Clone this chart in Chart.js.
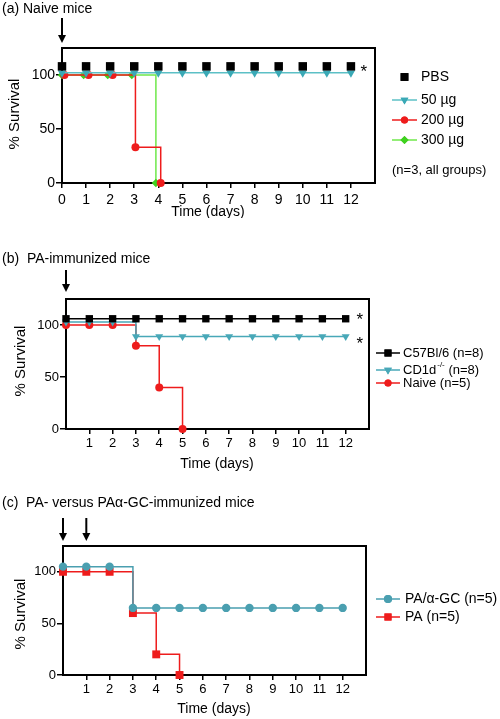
<!DOCTYPE html>
<html><head><meta charset="utf-8">
<script src="https://cdn.jsdelivr.net/npm/chart.js@4/dist/chart.umd.min.js"></script>
<style>
html,body{margin:0;padding:0;background:#fff;}
#wrap{position:relative;width:500px;height:719px;overflow:hidden;}
canvas{position:absolute;left:0;}
</style></head><body>
<div id="wrap">
<canvas id="ca" width="500" height="218" style="top:0px"></canvas>
<canvas id="cb" width="500" height="254" style="top:218px"></canvas>
<canvas id="cc" width="500" height="247" style="top:472px"></canvas>
</div>
<script>
const FONT = '"Liberation Sans", Arial, Helvetica, sans-serif';

// ---------- Panel (a) Naive mice ----------
const daysA = [0,1,2,3,4,5,6,7,8,9,10,11,12];
const pbsA = [108,108,108,108,108,108,108,108,108,108,108,108,108];
const ug50A = [102,102,102,102,102,102,102,102,102,102,102,102,102];
const ug200DaysA = [0.1,1.1,2.1,3.05,4.1];
const ug200A = [100,100,100,33,0];
const ug300DaysA = [0,0.9,1.9,2.9,3.9];
const ug300A = [100,100,100,100,0];
const xTicksA = [0,1,2,3,4,5,6,7,8,9,10,11,12];

// ---------- Panel (b) PA-immunized mice ----------
const daysB = [0,1,2,3,4,5,6,7,8,9,10,11,12];
const c57B = [106,106,106,106,106,106,106,106,106,106,106,106,106];
const cd1dB = [103,103,103,89,89,89,89,89,89,89,89,89,89];
const naiveDaysB = [0,1,2,3,4,5];
const naiveB = [100,100,100,80,40,0];
const xTicksB = [1,2,3,4,5,6,7,8,9,10,11,12];

// ---------- Panel (c) PA vs PA/a-GC ----------
const daysC = [0,1,2,3,4,5,6,7,8,9,10,11,12];
const paAgcC = [105,105,105,65,65,65,65,65,65,65,65,65,65];
const paDaysC = [0,1,2,3,4,5];
const paC = [100,100,100,60,20,0];
const xTicksC = [1,2,3,4,5,6,7,8,9,10,11,12];

const yTicks = [0,50,100];

const RED = '#ee1c1c', GREEN = '#3fd11f', GREENL = '#6fe84a';
const TEAL_A = '#3aa9b6', TEAL_AL = '#5cc0c6', TEAL_B = '#48a8b8', TEAL_C = '#4a9fb0';

function pts(xs, ys){ return xs.map((x,i)=>({x:x, y:ys[i]})); }

function drawMarker(ctx, style, r, rot, color, x, y){
  ctx.save();
  ctx.fillStyle = color; ctx.strokeStyle = color;
  if (Chart.helpers && Chart.helpers.drawPoint) {
    Chart.helpers.drawPoint(ctx, {pointStyle: style, radius: r, rotation: rot || 0, borderWidth: 0}, x, y);
    ctx.fill();
  }
  ctx.restore();
}

function arrow(ctx, x, y1, y2){
  ctx.save();
  ctx.strokeStyle = '#000'; ctx.fillStyle = '#000'; ctx.lineWidth = 2;
  ctx.beginPath(); ctx.moveTo(x, y1); ctx.lineTo(x, y2 - 6); ctx.stroke();
  ctx.beginPath(); ctx.moveTo(x - 4, y2 - 8); ctx.lineTo(x + 4, y2 - 8); ctx.lineTo(x, y2); ctx.closePath(); ctx.fill();
  ctx.restore();
}

function star(ctx, x, y, fs){
  ctx.save();
  ctx.fillStyle = '#000'; ctx.font = fs + 'px ' + FONT;
  ctx.textAlign = 'center'; ctx.textBaseline = 'alphabetic';
  ctx.fillText('*', x, y + 0.6 * fs);
  ctx.restore();
}

function panelPlugin(p){
  return {
    id: 'panelDeco',
    beforeDatasetsDraw(chart){
      const ctx = chart.ctx, a = chart.chartArea;
      ctx.save(); ctx.strokeStyle = '#000'; ctx.lineWidth = 2;
      ctx.strokeRect(a.left, a.top, a.right - a.left, a.bottom - a.top);
      ctx.restore();
    },
    afterDraw(chart){
      const ctx = chart.ctx, xs = chart.scales.x, ys = chart.scales.y;
      ctx.save();
      ctx.fillStyle = '#000';
      ctx.font = p.titleSize + 'px ' + FONT; ctx.textBaseline = 'middle'; ctx.textAlign = 'left';
      ctx.fillText(p.title, 2, p.titleY);
      p.arrows.forEach(d => arrow(ctx, xs.getPixelForValue(d), p.arrowY1, p.arrowY2));
      ctx.font = p.axisTitleSize + 'px ' + FONT; ctx.textAlign = 'center'; ctx.textBaseline = 'middle';
      ctx.fillText('Time (days)', p.xTitleX, p.xTitleY);
      ctx.save(); ctx.translate(p.yTitleX, p.yTitleY); ctx.rotate(-Math.PI/2);
      ctx.font = p.yTitleSize + 'px ' + FONT;
      ctx.fillText('% Survival', 0, 0); ctx.restore();
      p.stars.forEach(s => star(ctx, xs.getPixelForValue(12) + s.dx, ys.getPixelForValue(s.v) + (s.dy||0), 17));
      p.legend.forEach(it => {
        if (it.line) {
          ctx.save(); ctx.strokeStyle = it.lineColor; ctx.lineWidth = 1.5;
          ctx.beginPath(); ctx.moveTo(p.legX1, it.y); ctx.lineTo(p.legX2, it.y); ctx.stroke(); ctx.restore();
        }
        drawMarker(ctx, it.style, it.r, it.rot, it.color, (p.legX1 + p.legX2)/2, it.y);
        ctx.fillStyle = '#000'; ctx.textAlign = 'left'; ctx.textBaseline = 'middle';
        ctx.font = p.legSize + 'px ' + FONT;
        let x = p.legTextX;
        ctx.fillText(it.text, x, it.y);
        if (it.sup) {
          x += ctx.measureText(it.text).width;
          ctx.font = Math.round(p.legSize * 0.62) + 'px ' + FONT;
          ctx.fillText(it.sup, x + 1, it.y - 5);
          x += ctx.measureText(it.sup).width + 1;
          ctx.font = p.legSize + 'px ' + FONT;
          ctx.fillText(it.after, x, it.y);
        }
      });
      p.notes.forEach(n => {
        ctx.font = n.size + 'px ' + FONT; ctx.textAlign = 'left'; ctx.textBaseline = 'middle';
        ctx.fillText(n.text, n.x, n.y);
      });
      ctx.restore();
    }
  };
}

function ds(data, o){
  return Object.assign({
    data: data, borderWidth: 1.5, stepped: true, fill: false, clip: false,
    pointBorderWidth: 0, pointHoverRadius: 0, showLine: true
  }, o);
}

function makePanel(id, p, datasets){
  const H = document.getElementById(id).height;
  return new Chart(document.getElementById(id), {
    type: 'line',
    data: { datasets: datasets },
    options: {
      responsive: false, animation: false, devicePixelRatio: 1,
      layout: { padding: { left: 0, right: 500 - p.right, top: p.top, bottom: 0 } },
      plugins: { legend: {display: false}, tooltip: {enabled: false} },
      events: [],
      scales: {
        x: {
          type: 'linear', min: 0, max: 13,
          afterFit(s){ s.height = H - p.bottom; },
          afterBuildTicks(s){ s.ticks = p.xTicks.map(v => ({value: v})); },
          ticks: { color: '#000', font: {family: FONT, size: p.tickSize}, padding: p.xPad, maxRotation: 0, autoSkip: false },
          grid: { drawOnChartArea: false, drawTicks: true, tickLength: 5, color: '#000', lineWidth: 1.5 },
          border: { display: true, color: '#000', width: 2 }
        },
        y: {
          type: 'linear', min: 0, max: 125,
          afterFit(s){ s.width = p.left; },
          afterBuildTicks(s){ s.ticks = yTicks.map(v => ({value: v})); },
          ticks: { color: '#000', font: {family: FONT, size: p.tickSize}, padding: 1 },
          grid: { drawOnChartArea: false, drawTicks: true, tickLength: 6, color: '#000', lineWidth: 1.5 },
          border: { display: true, color: '#000', width: 2 }
        }
      }
    },
    plugins: [panelPlugin(p)]
  });
}

// ---- Panel (a)
makePanel('ca', {
  left: 62, right: 375, top: 48, bottom: 183, xTicks: xTicksA, tickSize: 14, xPad: 4,
  title: '(a) Naive mice', titleSize: 14, titleY: 9,
  arrows: [0], arrowY1: 18, arrowY2: 43,
  axisTitleSize: 14, xTitleX: 208, xTitleY: 212, yTitleX: 15, yTitleY: 114, yTitleSize: 15,
  stars: [{v: 108, dx: 13, dy: 0}],
  legX1: 392, legX2: 417, legTextX: 421, legSize: 14,
  legend: [
    {text: 'PBS', style: 'rect', r: 5.5, color: '#000', line: false, y: 77},
    {text: '50 \u00b5g', style: 'triangle', r: 4.5, rot: 180, color: TEAL_A, line: true, lineColor: TEAL_AL, y: 100},
    {text: '200 \u00b5g', style: 'circle', r: 3.5, color: RED, line: true, lineColor: RED, y: 120},
    {text: '300 \u00b5g', style: 'rectRot', r: 4, color: GREEN, line: true, lineColor: GREENL, y: 140}
  ],
  notes: [{text: '(n=3, all groups)', x: 392, y: 170, size: 13}]
}, [
  ds(pts(daysA, pbsA), {showLine: false, pointStyle: 'rect', pointRadius: 6, pointBackgroundColor: '#000', borderColor: '#000'}),
  ds(pts(daysA, ug50A), {pointStyle: 'triangle', pointRotation: 180, pointRadius: 4.8, pointBackgroundColor: TEAL_A, borderColor: TEAL_AL}),
  ds(pts(ug200DaysA, ug200A), {pointStyle: 'circle', pointRadius: 4, pointBackgroundColor: RED, borderColor: RED}),
  ds(pts(ug300DaysA, ug300A), {pointStyle: 'rectRot', pointRadius: 4.2, pointBackgroundColor: GREEN, borderColor: GREENL})
]);

// ---- Panel (b)  (canvas top = 218)
makePanel('cb', {
  left: 66, right: 369, top: 81, bottom: 211, xTicks: xTicksB, tickSize: 13, xPad: 2,
  title: '(b)  PA-immunized mice', titleSize: 14, titleY: 41,
  arrows: [0], arrowY1: 52, arrowY2: 74,
  axisTitleSize: 14, xTitleX: 217, xTitleY: 246, yTitleX: 21, yTitleY: 143, yTitleSize: 15,
  stars: [{v: 106, dx: 14, dy: -4}, {v: 89, dx: 14, dy: 2}],
  legX1: 376, legX2: 400, legTextX: 403, legSize: 13,
  legend: [
    {text: 'C57Bl/6 (n=8)', style: 'rect', r: 5, color: '#000', line: true, lineColor: '#000', y: 135},
    {text: 'CD1d', sup: '-/-', after: ' (n=8)', style: 'triangle', r: 4.5, rot: 180, color: TEAL_B, line: true, lineColor: TEAL_B, y: 152},
    {text: 'Naive (n=5)', style: 'circle', r: 3.5, color: RED, line: true, lineColor: RED, y: 165}
  ],
  notes: []
}, [
  ds(pts(daysB, c57B), {pointStyle: 'rect', pointRadius: 5.2, pointBackgroundColor: '#000', borderColor: '#000'}),
  ds(pts(daysB, cd1dB), {pointStyle: 'triangle', pointRotation: 180, pointRadius: 4.6, pointBackgroundColor: TEAL_B, borderColor: TEAL_B}),
  ds(pts(naiveDaysB, naiveB), {pointStyle: 'circle', pointRadius: 4, pointBackgroundColor: RED, borderColor: RED})
]);

// ---- Panel (c)  (canvas top = 472)
makePanel('cc', {
  left: 63, right: 366, top: 74, bottom: 203, xTicks: xTicksC, tickSize: 13, xPad: 2,
  title: '(c)  PA- versus PA\u03b1-GC-immunized mice', titleSize: 14, titleY: 31,
  arrows: [0, 1], arrowY1: 46, arrowY2: 69,
  axisTitleSize: 14, xTitleX: 214, xTitleY: 237, yTitleX: 21, yTitleY: 142, yTitleSize: 15,
  stars: [],
  legX1: 376, legX2: 400, legTextX: 405, legSize: 14,
  legend: [
    {text: 'PA/\u03b1-GC (n=5)', style: 'circle', r: 4, color: TEAL_C, line: true, lineColor: TEAL_C, y: 127},
    {text: 'PA (n=5)', style: 'rect', r: 5, color: RED, line: true, lineColor: RED, y: 145}
  ],
  notes: []
}, [
  ds(pts(daysC, paAgcC), {pointStyle: 'circle', pointRadius: 4.2, pointBackgroundColor: TEAL_C, borderColor: TEAL_C}),
  ds(pts(paDaysC, paC), {pointStyle: 'rect', pointRadius: 5.6, pointBackgroundColor: RED, borderColor: RED})
]);
</script>
</body></html>
